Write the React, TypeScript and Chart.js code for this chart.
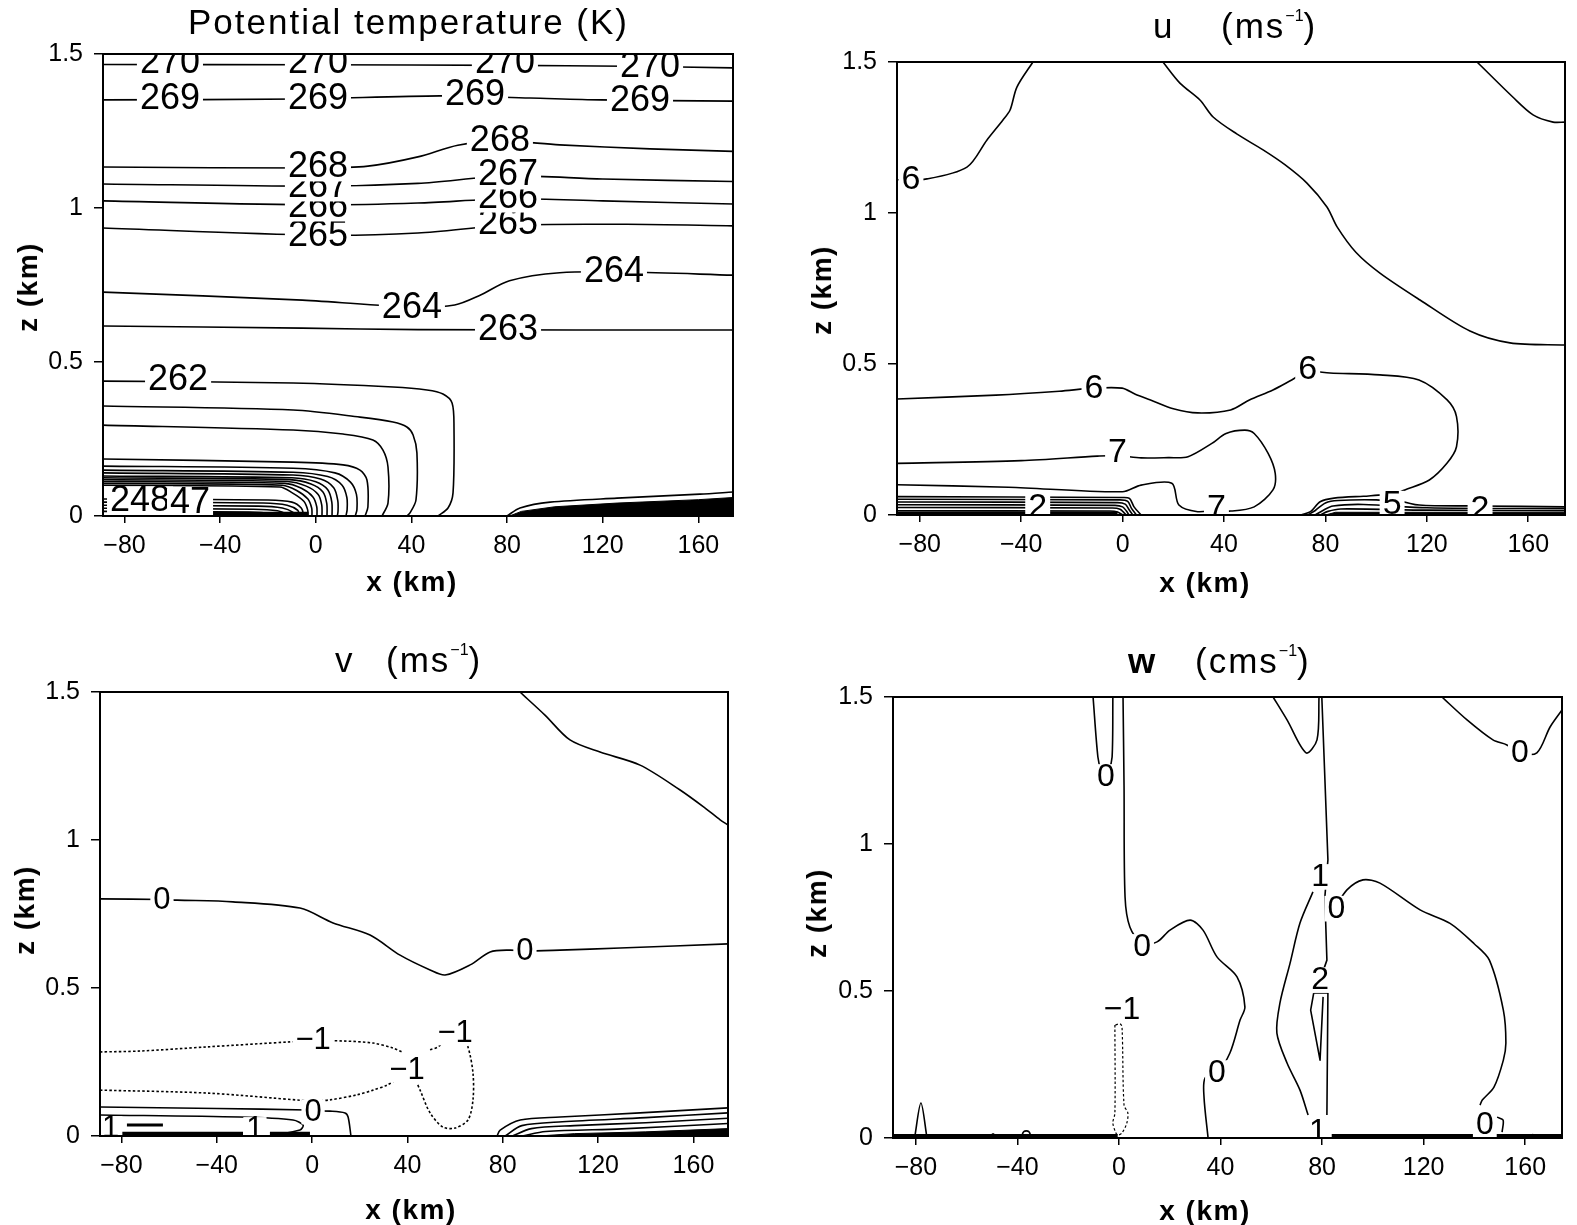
import React, { useEffect, useRef } from 'react';
import { Chart, registerables } from 'chart.js';

Chart.register(...registerables);

type Pt = [number, number];
type Lab = { t: string; x: number; z: number };
type Ln = { pts: Pt[]; dash?: boolean; w?: number; fill?: boolean; straight?: boolean };

const FONT = "'Liberation Sans', Arial, Helvetica, sans-serif";

// ---------- axes ----------
const xMin = -89;
const xMax = 174.5;
const zMin = 0;
const zMax = 1.5;
const xTickValues = [-80, -40, 0, 40, 80, 120, 160];
const zTickValues = [0, 0.5, 1, 1.5];

// ---------- Panel 1 : potential temperature (K) ----------
const th270: Pt[] = [[-89, 1.466], [0, 1.465], [80, 1.463], [130, 1.46], [174.5, 1.455]];
const th269: Pt[] = [[-89, 1.351], [-6.6, 1.354], [52, 1.364], [89.6, 1.357], [118.9, 1.351], [174.5, 1.347]];
const th268: Pt[] = [[-89, 1.133], [0.9, 1.13], [21.8, 1.136], [42.7, 1.166], [59.4, 1.204], [77, 1.218], [102, 1.205], [139.8, 1.192], [174.5, 1.184]];
const th267: Pt[] = [[-89, 1.078], [0.9, 1.071], [42.7, 1.08], [80.4, 1.104], [120, 1.094], [174.5, 1.086]];
const th266: Pt[] = [[-89, 1.023], [0.9, 1.01], [42.7, 1.016], [80.4, 1.03], [120, 1.023], [174.5, 1.013]];
const th265: Pt[] = [[-89, 0.935], [0.9, 0.912], [42.7, 0.919], [80.4, 0.944], [130, 0.947], [174.5, 0.942]];
const th264: Pt[] = [[-89, 0.727], [-5.6, 0.701], [40.2, 0.678], [58.1, 0.685], [68.5, 0.716], [81, 0.764], [102, 0.79], [130, 0.792], [174.5, 0.782]];
const th263: Pt[] = [[-89, 0.617], [-5.6, 0.61], [42.7, 0.605], [174.5, 0.604]];
const th262: Pt[] = [[-89, 0.438], [-9.5, 0.432], [32.3, 0.419], [46.5, 0.409], [53.2, 0.396], [57, 0.367], [57.8, 0.289], [57.4, 0.075], [55.3, 0.026], [51.1, 0]];
const th261: Pt[] = [[-89, 0.357], [-9.5, 0.344], [18.5, 0.321], [32.3, 0.305], [38.1, 0.289], [40.7, 0.263], [42.3, 0.205], [41.9, 0.052], [39.4, 0.01], [38.1, 0]];
const th260: Pt[] = [[-89, 0.295], [-9.5, 0.279], [11.4, 0.266], [23.9, 0.247], [28.1, 0.214], [30.2, 0.159], [30.2, 0.042], [27.7, 0]];
const th259: Pt[] = [[-89, 0.185], [-9.5, 0.175], [11.4, 0.166], [18.5, 0.149], [21.4, 0.117], [21.8, 0.029], [20.6, 0]];
const th258: Pt[] = [[-89, 0.162], [-9.5, 0.155], [8, 0.14], [14.5, 0.11], [17, 0.07], [17.2, 0.02], [16.5, 0]];
const th257: Pt[] = [[-89, 0.149], [-9.5, 0.142], [5, 0.128], [11, 0.1], [13, 0.06], [13.1, 0.02], [12.6, 0]];
const th256: Pt[] = [[-89, 0.14], [-9.5, 0.133], [2, 0.12], [7.5, 0.092], [9.2, 0.05], [9.3, 0.015], [9, 0]];
const th255: Pt[] = [[-89, 0.13], [-10, 0.124], [0, 0.111], [5, 0.085], [6.7, 0.045], [6.8, 0]];
const th254: Pt[] = [[-89, 0.124], [-11, 0.118], [-2, 0.104], [3, 0.078], [4.6, 0.04], [4.7, 0]];
const th253: Pt[] = [[-89, 0.118], [-12, 0.112], [-4, 0.097], [1, 0.07], [2.5, 0.035], [2.6, 0]];
const th252: Pt[] = [[-89, 0.112], [-13, 0.106], [-6, 0.09], [-1.2, 0.062], [0.4, 0.03], [0.5, 0]];
const th251: Pt[] = [[-89, 0.106], [-14, 0.1], [-8, 0.083], [-3.3, 0.055], [-1.7, 0.025], [-1.6, 0]];
const th250: Pt[] = [[-89, 0.1], [-15, 0.094], [-10, 0.076], [-5, 0.048], [-3.4, 0.02], [-3.3, 0]];
const th249: Pt[] = [[-89, 0.055], [-20, 0.052], [-10, 0.045], [-6, 0.025], [-5, 0]];
const th248: Pt[] = [[-89, 0.045], [-22, 0.042], [-12, 0.035], [-7.5, 0.018], [-7, 0]];
const th247: Pt[] = [[-89, 0.035], [-24, 0.032], [-14, 0.026], [-9.5, 0.012], [-9, 0]];
const th246: Pt[] = [[-89, 0.025], [-26, 0.022], [-16, 0.017], [-12, 0.006], [-11.5, 0]];
const th245: Pt[] = [[-89, 0.015], [-28, 0.013], [-18, 0.008], [-14, 0]];
const thGround: Pt[] = [[-43, 0.006], [-3, 0.006]];
const thWedgeTop: Pt[] = [[79.97, 0], [85.4, 0.026], [98, 0.045], [126, 0.058], [160.7, 0.071], [174.5, 0.078]];
const thWedgeFill: Pt[] = [[81, 0], [86, 0.015], [100, 0.03], [126, 0.042], [160, 0.053], [174.5, 0.06]];
const thLabels: Lab[] = [
  { t: '270', x: -61, z: 1.472 }, { t: '270', x: 0.9, z: 1.472 }, { t: '270', x: 79.1, z: 1.472 }, { t: '270', x: 139.8, z: 1.458 },
  { t: '269', x: -61, z: 1.354 }, { t: '269', x: 0.9, z: 1.354 }, { t: '269', x: 66.6, z: 1.367 }, { t: '269', x: 135.6, z: 1.347 },
  { t: '265', x: 0.9, z: 0.909 }, { t: '265', x: 80.4, z: 0.948 },
  { t: '266', x: 0.9, z: 1.003 }, { t: '266', x: 80.4, z: 1.032 },
  { t: '267', x: 0.9, z: 1.068 }, { t: '267', x: 80.4, z: 1.107 },
  { t: '268', x: 0.9, z: 1.133 }, { t: '268', x: 77, z: 1.218 },
  { t: '264', x: 40.2, z: 0.675 }, { t: '264', x: 124.7, z: 0.792 },
  { t: '263', x: 80.4, z: 0.604 }, { t: '262', x: -57.6, z: 0.442 },
  { t: '248', x: -73.5, z: 0.049 }, { t: '47', x: -52.6, z: 0.042 },
];

// ---------- Panel 2 : u (m/s) ----------
const uSixTop: Pt[] = [[-89, 1.11], [-77.2, 1.113], [-61.4, 1.152], [-53.5, 1.242], [-47.2, 1.308], [-44.4, 1.341], [-41.7, 1.417], [-35.4, 1.5]];
const uDiag: Pt[] = [[15.9, 1.5], [22.6, 1.43], [30.5, 1.374], [35.7, 1.318], [45, 1.262], [55.4, 1.209], [64, 1.16], [72.7, 1.099], [80.6, 1.02], [84.6, 0.954], [92, 0.87], [101.5, 0.801], [117.3, 0.712], [137, 0.609], [152.8, 0.57], [174.5, 0.563]];
const uTopRight: Pt[] = [[139.8, 1.5], [153.9, 1.384], [161.9, 1.325], [169.8, 1.301], [174.5, 1.301]];
const uSixLow: Pt[] = [[-89, 0.384], [-50, 0.397], [-25, 0.41], [-11.3, 0.42], [-0.2, 0.42], [5, 0.4], [11, 0.381], [20, 0.352], [29.6, 0.338], [42.6, 0.348], [50, 0.381], [59.3, 0.414], [66.7, 0.447], [73, 0.475], [81.8, 0.47], [101.5, 0.464], [116.9, 0.447], [128, 0.381], [131.7, 0.326], [131.7, 0.226], [128, 0.172], [121, 0.116], [111.3, 0.083], [106, 0.066]];
const uSeven: Pt[] = [[-89, 0.171], [-40, 0.18], [-10, 0.195], [-2, 0.197], [7.3, 0.189], [18, 0.19], [25.8, 0.193], [35.2, 0.237], [40.8, 0.27], [48.2, 0.281], [51.9, 0.27], [57.4, 0.204], [60.2, 0.138], [59.3, 0.083], [51.9, 0.027], [42.6, 0.013], [37, 0.017], [29.6, 0.011], [22.2, 0.033], [19.4, 0.105], [7.3, 0.099], [-0.1, 0.077], [-45, 0.092], [-89, 0.1]];
const uFive: Pt[] = [[70.4, 0], [74.1, 0.011], [77.9, 0.044], [83.4, 0.056], [95, 0.062], [104.7, 0.066], [108.5, 0.05], [117, 0.033], [140, 0.03], [174.5, 0.027]];
const uLow1: Pt[] = [[-89, 0.061], [-0.1, 0.058], [2.7, 0.055], [4.5, 0.027], [7.3, 0]];
const uLow2: Pt[] = [[-89, 0.052], [-1, 0.05], [2, 0.045], [3.5, 0.022], [5.5, 0]];
const uLow3: Pt[] = [[-89, 0.043], [-2, 0.041], [1, 0.036], [2.5, 0.018], [4, 0]];
const uLow4: Pt[] = [[-89, 0.034], [-3, 0.032], [0, 0.027], [1.5, 0.013], [2.5, 0]];
const uLow5: Pt[] = [[-89, 0.025], [-4, 0.023], [-1, 0.019], [0.5, 0.008], [1.5, 0]];
const uLow6: Pt[] = [[-89, 0.014], [-5, 0.013], [-2, 0.01], [0, 0]];
const uGroundL: Pt[] = [[-89, 0.005], [-2, 0.005]];
const uRight1: Pt[] = [[73, 0], [76, 0.015], [80, 0.04], [85, 0.048], [100, 0.05], [105, 0.045]];
const uRight2: Pt[] = [[76, 0], [79, 0.015], [83, 0.03], [95, 0.035], [120, 0.024], [174.5, 0.021]];
const uRight3: Pt[] = [[78, 0], [81, 0.012], [86, 0.02], [120, 0.016], [174.5, 0.014]];
const uRightFill: Pt[] = [[80, 0], [84, 0.009], [120, 0.009], [174.5, 0.009]];
const uLabels: Lab[] = [
  { t: '6', x: -83.5, z: 1.11 }, { t: '6', x: -11.3, z: 0.418 }, { t: '6', x: 73, z: 0.48 },
  { t: '7', x: -2, z: 0.205 }, { t: '7', x: 37, z: 0.022 },
  { t: '2', x: -33.5, z: 0.025 }, { t: '5', x: 106.3, z: 0.035 }, { t: '2', x: 141, z: 0.018 },
];

// ---------- Panel 3 : v (m/s) ----------
const vTopRight: Pt[] = [[87.2, 1.5], [97.7, 1.422], [108.2, 1.338], [120.8, 1.297], [137.6, 1.253], [154.4, 1.169], [164.9, 1.108], [171.2, 1.068], [174.5, 1.051]];
const vZero: Pt[] = [[-89, 0.801], [-63, 0.799], [-56.7, 0.797], [-33.2, 0.791], [-5.1, 0.77], [8.8, 0.72], [24.3, 0.679], [36.9, 0.611], [49.5, 0.561], [55.8, 0.544], [66.3, 0.578], [74.7, 0.622], [83.1, 0.628], [89.3, 0.625], [104, 0.628], [129.2, 0.635], [174.5, 0.649]];
const vNegA: Pt[] = [[-89, 0.284], [-72.2, 0.287], [-44.1, 0.301], [-9.3, 0.318], [0.4, 0.322], [13, 0.321], [25.6, 0.314], [34, 0.297], [37.7, 0.284]];
const vNegB: Pt[] = [[49.5, 0.291], [52.8, 0.301], [57, 0.33]];
const vNegLoop: Pt[] = [[63, 0.33], [65.4, 0.301], [67.5, 0.213], [67.5, 0.122], [65.4, 0.054], [60, 0.027], [54.9, 0.03], [49.5, 0.078], [45.3, 0.155], [44, 0.179]];
const vNegC: Pt[] = [[-89, 0.155], [-44.1, 0.145], [-3.8, 0.12], [0.4, 0.118], [7.5, 0.122], [18.8, 0.139], [25.6, 0.155], [31.4, 0.172], [37, 0.2]];
const vSolid1: Pt[] = [[-89, 0.098], [-40, 0.093], [-2.1, 0.088], [0.4, 0.085], [7.5, 0.084], [13.8, 0.078], [15.1, 0.064], [16.3, 0]];
const vSolid2: Pt[] = [[-89, 0.071], [-30.3, 0.064], [-8, 0.054], [-3.8, 0.037], [-5.1, 0.02], [-16.4, 0.003]];
const vShort: Pt[] = [[-77.7, 0.037], [-62.6, 0.037]];
const vGroundA: Pt[] = [[-89, 0.006], [-29, 0.006]];
const vGroundB: Pt[] = [[-17.7, 0.006], [-0.9, 0.006]];
const vWedge1: Pt[] = [[77.6, 0], [78.9, 0.02], [87.3, 0.054], [104, 0.064], [137.6, 0.078], [174.5, 0.095]];
const vWedge2: Pt[] = [[81, 0], [88, 0.035], [105, 0.048], [140, 0.062], [174.5, 0.078]];
const vWedge3: Pt[] = [[84, 0], [92, 0.025], [110, 0.035], [140, 0.045], [174.5, 0.06]];
const vWedge4: Pt[] = [[88, 0], [98, 0.015], [130, 0.024], [174.5, 0.042]];
const vWedgeFill: Pt[] = [[95, 0], [110, 0.008], [140, 0.014], [174.5, 0.025]];
const vLabels: Lab[] = [
  { t: '0', x: -63, z: 0.797 }, { t: '0', x: 89.3, z: 0.622 },
  { t: '−1', x: 0.4, z: 0.324 }, { t: '−1', x: 39.8, z: 0.223 }, { t: '−1', x: 60, z: 0.348 },
  { t: '0', x: 0.4, z: 0.081 }, { t: '1', x: -24, z: 0.022 }, { t: '1', x: -84.5, z: 0.025 },
];

// ---------- Panel 4 : w (cm/s) ----------
const wU: Pt[] = [[-10.2, 1.5], [-8.3, 1.296], [-7, 1.25], [-5.5, 1.235], [-4, 1.25], [-2.7, 1.296], [-2.4, 1.5]];
const wLong: Pt[] = [[1.6, 1.5], [2, 1.2], [2.4, 0.82], [4.3, 0.718], [9.1, 0.66], [15, 0.667], [20.1, 0.707], [28, 0.741], [33.1, 0.707], [38.6, 0.616], [46.5, 0.548], [49.6, 0.446], [47.7, 0.401], [43.7, 0.289], [38.6, 0.221], [33.9, 0.204], [33.5, 0.139], [35.1, 0]];
const wV: Pt[] = [[60.7, 1.5], [66.2, 1.422], [73.7, 1.31], [78, 1.354], [78.8, 1.5]];
const wVert1: Pt[] = [[79.9, 1.5], [82.3, 0.946], [81.1, 0.82], [81.9, 0.605], [79.2, 0.537]];
const wVert2: Pt[] = [[76.7, 0.493], [82.3, 0.493], [81.9, 0.078]];
const wTri: Pt[] = [[76.7, 0.493], [75.5, 0.435], [79.2, 0.265], [80.4, 0.48]];
const wCurve: Pt[] = [[76.4, 0.837], [71.3, 0.731], [67.4, 0.595], [63.4, 0.459], [62.2, 0.357], [66.2, 0.255], [71.3, 0.163], [74.5, 0.078]];
const wRight0: Pt[] = [[85.1, 0.782], [89.8, 0.844], [96.1, 0.878], [102.8, 0.867], [118.6, 0.776], [130.4, 0.73], [140, 0.66], [145.9, 0.605], [151.4, 0.435], [152.4, 0.323], [151.4, 0.265], [147.7, 0.173], [143.1, 0.129], [142.2, 0.112]];
const wHook: Pt[] = [[148.9, 0.071], [151.3, 0.061], [150.9, 0.02]];
const wTopRight: Pt[] = [[127.2, 1.5], [137.1, 1.422], [147.3, 1.354], [152.8, 1.337], [157.9, 1.31], [164.6, 1.31], [169.8, 1.398], [174.5, 1.456]];
const wNegLoop: Pt[] = [[-1.6, 0.384], [-1.6, 0.085], [-2.4, 0.051], [-1.2, 0.017], [-0.4, 0.01], [1.2, 0.017], [3.1, 0.051], [3.5, 0.085], [2, 0.112], [1.2, 0.378], [0.4, 0.388], [-1.6, 0.384]];
const wSpike: Pt[] = [[-80.5, 0], [-78, 0.119], [-75.6, 0]];
const wBump1: Pt[] = [[-51, 0], [-49.6, 0.014], [-48, 0]];
const wBump2: Pt[] = [[-38.5, 0], [-37.5, 0.022], [-35.5, 0.022], [-34.5, 0]];
const wBump3: Pt[] = [[161.5, 0], [163, 0.012], [164.5, 0]];
const wGroundL: Pt[] = [[-89, 0.006], [-0.5, 0.006]];
const wGroundR: Pt[] = [[83.8, 0.006], [174.5, 0.006]];
const wLabels: Lab[] = [
  { t: '0', x: -5.1, z: 1.228 }, { t: '0', x: 9.1, z: 0.65 }, { t: '0', x: 38.6, z: 0.221 },
  { t: '−1', x: 1.2, z: 0.435 }, { t: '1', x: 79.2, z: 0.888 }, { t: '0', x: 85.6, z: 0.78 },
  { t: '2', x: 79.2, z: 0.537 }, { t: '1', x: 78.4, z: 0.02 },
  { t: '0', x: 157.9, z: 1.31 }, { t: '0', x: 144.1, z: 0.044 },
];

// ---------- panel definitions ----------
type PanelDef = { rect: [number, number, number, number]; lines: Ln[]; labels: Lab[]; labelSize: number };

const panels: PanelDef[] = [
  {
    rect: [103, 54, 733, 516],
    labelSize: 36,
    labels: thLabels,
    lines: [
      { pts: th270 }, { pts: th269 }, { pts: th268 }, { pts: th267 }, { pts: th266 }, { pts: th265 },
      { pts: th264 }, { pts: th263 }, { pts: th262 }, { pts: th261 }, { pts: th260 }, { pts: th259 },
      { pts: th258 }, { pts: th257 }, { pts: th256 }, { pts: th255 }, { pts: th254 }, { pts: th253 },
      { pts: th252 }, { pts: th251 }, { pts: th250 }, { pts: th249 }, { pts: th248 }, { pts: th247 },
      { pts: th246 }, { pts: th245 }, { pts: thGround, w: 5 },
      { pts: thWedgeTop }, { pts: thWedgeFill, fill: true, w: 1 },
    ],
  },
  {
    rect: [897, 62, 1565, 515],
    labelSize: 34,
    labels: uLabels,
    lines: [
      { pts: uSixTop }, { pts: uDiag }, { pts: uTopRight }, { pts: uSixLow }, { pts: uSeven }, { pts: uFive },
      { pts: uLow1 }, { pts: uLow2 }, { pts: uLow3 }, { pts: uLow4 }, { pts: uLow5 }, { pts: uLow6 },
      { pts: uGroundL, w: 4 }, { pts: uRight1 }, { pts: uRight2 }, { pts: uRight3 },
      { pts: uRightFill, fill: true, w: 1 },
    ],
  },
  {
    rect: [100, 692, 728, 1136],
    labelSize: 31,
    labels: vLabels,
    lines: [
      { pts: vTopRight }, { pts: vZero },
      { pts: vNegA, dash: true }, { pts: vNegB, dash: true }, { pts: vNegLoop, dash: true }, { pts: vNegC, dash: true },
      { pts: vSolid1 }, { pts: vSolid2 }, { pts: vShort, w: 3 }, { pts: vGroundA, w: 5 }, { pts: vGroundB, w: 5 },
      { pts: vWedge1 }, { pts: vWedge2 }, { pts: vWedge3 }, { pts: vWedge4 }, { pts: vWedgeFill, fill: true, w: 1 },
    ],
  },
  {
    rect: [893, 697, 1562, 1138],
    labelSize: 32,
    labels: wLabels,
    lines: [
      { pts: wU }, { pts: wLong }, { pts: wV }, { pts: wVert1, straight: true }, { pts: wVert2, straight: true },
      { pts: wTri, straight: true }, { pts: wCurve }, { pts: wRight0 }, { pts: wHook }, { pts: wTopRight },
      { pts: wNegLoop, dash: true, w: 1.2 }, { pts: wSpike }, { pts: wBump1 }, { pts: wBump2 }, { pts: wBump3 },
      { pts: wGroundL, w: 4.5 }, { pts: wGroundR, w: 4.5 },
    ],
  },
];

const fmtX = (v: number) => (v < 0 ? '−' + Math.abs(v) : String(v));
const fmtZ = (v: number) => String(v);

function ContourPanel({ def }: { def: PanelDef }) {
  const ref = useRef<HTMLCanvasElement | null>(null);
  const [L, T, R, B] = def.rect;
  const AXW = 100;
  const PADT = 40;
  const PADR = 30;
  const AXH = 60;
  const width = R - L + AXW + PADR;
  const height = B - T + PADT + AXH;

  useEffect(() => {
    const canvas = ref.current;
    if (!canvas) return;
    const datasets = def.lines.map((ln) => ({
      data: ln.pts.map(([x, y]) => ({ x, y })),
      showLine: true,
      pointRadius: 0,
      pointHoverRadius: 0,
      borderColor: '#000',
      backgroundColor: '#000',
      borderWidth: ln.w ?? 1.6,
      borderDash: ln.dash ? [2.5, 2.2] : [],
      tension: ln.straight || ln.fill ? 0 : 0.3,
      fill: ln.fill ? 'origin' : false,
      borderCapStyle: 'butt',
      borderJoinStyle: 'round',
    }));
    const labelPlugin = {
      id: 'contourLabels',
      afterDatasetsDraw(chart: any) {
        const { ctx, chartArea: a, scales } = chart;
        ctx.save();
        ctx.beginPath();
        ctx.rect(a.left, a.top, a.right - a.left, a.bottom - a.top);
        ctx.clip();
        ctx.font = `${def.labelSize}px ${FONT}`;
        ctx.textAlign = 'center';
        ctx.textBaseline = 'middle';
        for (const lb of def.labels) {
          const px = scales.x.getPixelForValue(lb.x);
          const py = scales.y.getPixelForValue(lb.z);
          const w = ctx.measureText(lb.t).width;
          const h = def.labelSize * 0.8;
          ctx.fillStyle = '#fff';
          ctx.fillRect(px - w / 2 - 3, py - h / 2, w + 6, h);
          ctx.fillStyle = '#000';
          ctx.fillText(lb.t, px, py);
        }
        ctx.restore();
        ctx.save();
        ctx.strokeStyle = '#000';
        ctx.lineWidth = 2;
        ctx.strokeRect(a.left, a.top, a.right - a.left, a.bottom - a.top);
        ctx.restore();
      },
    };
    const chart = new Chart(canvas, {
      type: 'scatter',
      data: { datasets: datasets as any },
      options: {
        animation: false,
        responsive: false,
        maintainAspectRatio: false,
        devicePixelRatio: 1,
        events: [],
        layout: { padding: { top: PADT, right: PADR, left: 0, bottom: 0 } },
        plugins: { legend: { display: false }, tooltip: { enabled: false }, title: { display: false } },
        scales: {
          x: {
            type: 'linear',
            min: xMin,
            max: xMax,
            afterFit: (s: any) => { s.height = AXH; },
            afterBuildTicks: (s: any) => { s.ticks = xTickValues.map((v) => ({ value: v })); },
            ticks: {
              callback: (v: any) => fmtX(Number(v)),
              color: '#000',
              font: { family: FONT, size: 25 },
              padding: 8,
              maxRotation: 0,
              autoSkip: false,
            },
            grid: { drawOnChartArea: false, drawTicks: true, tickLength: 7, color: '#000', lineWidth: 1.5 },
            border: { display: false },
          },
          y: {
            type: 'linear',
            min: zMin,
            max: zMax,
            afterFit: (s: any) => { s.width = AXW; },
            afterBuildTicks: (s: any) => { s.ticks = zTickValues.map((v) => ({ value: v })); },
            ticks: {
              callback: (v: any) => fmtZ(Number(v)),
              color: '#000',
              font: { family: FONT, size: 25 },
              padding: 11,
              autoSkip: false,
            },
            grid: { drawOnChartArea: false, drawTicks: true, tickLength: 9, color: '#000', lineWidth: 1.5 },
            border: { display: false },
          },
        },
      } as any,
      plugins: [labelPlugin],
    });
    let a = chart.chartArea;
    const dw = (R - L) - (a.right - a.left);
    const dh = (B - T) - (a.bottom - a.top);
    if (Math.abs(dw) > 0.5 || Math.abs(dh) > 0.5) {
      chart.resize(width + dw, height + dh);
      a = chart.chartArea;
    }
    canvas.style.left = `${L - a.left}px`;
    canvas.style.top = `${T - a.top}px`;
    return () => chart.destroy();
  }, [def]);

  return (
    <canvas
      ref={ref}
      width={width}
      height={height}
      style={{ position: 'absolute', left: L - AXW, top: T - PADT, width, height }}
    />
  );
}

const titleStyle: React.CSSProperties = {
  position: 'absolute',
  fontFamily: FONT,
  fontSize: '35px',
  lineHeight: '35px',
  color: '#000',
  whiteSpace: 'pre',
  letterSpacing: '2px',
};

const axisStyle: React.CSSProperties = {
  position: 'absolute',
  fontFamily: FONT,
  fontSize: '28px',
  lineHeight: '28px',
  fontWeight: 'bold',
  color: '#000',
  whiteSpace: 'pre',
  letterSpacing: '1.5px',
};

const supStyle: React.CSSProperties = { fontSize: '16px', position: 'relative', top: '-17px', letterSpacing: '0px' };

const xTitlePos = [[412, 592], [1205, 593], [411, 1220], [1205, 1221]];
const zTitlePos = [[28, 287], [822, 290], [25, 910], [817, 913]];

export default function App() {
  return (
    <div style={{ position: 'absolute', left: 0, top: 0, width: 1577, height: 1225, background: '#fff', overflow: 'hidden' }}>
      {panels.map((p, i) => (
        <ContourPanel key={i} def={p} />
      ))}
      <div style={{ ...titleStyle, left: 188, top: 4 }}>Potential temperature (K)</div>
      <div style={{ ...titleStyle, left: 1153, top: 8 }}>u</div>
      <div style={{ ...titleStyle, left: 1221, top: 8 }}>(ms<span style={supStyle}>−1</span>)</div>
      <div style={{ ...titleStyle, left: 335, top: 642 }}>v</div>
      <div style={{ ...titleStyle, left: 386, top: 642 }}>(ms<span style={supStyle}>−1</span>)</div>
      <div style={{ ...titleStyle, left: 1128, top: 643, fontWeight: 'bold' }}>w</div>
      <div style={{ ...titleStyle, left: 1195, top: 643 }}>(cms<span style={supStyle}>−1</span>)</div>
      {xTitlePos.map(([cx, base], i) => (
        <div key={'xt' + i} style={{ ...axisStyle, left: cx, top: base - 24, transform: 'translateX(-50%)' }}>x (km)</div>
      ))}
      {zTitlePos.map(([cx, cy], i) => (
        <div key={'zt' + i} style={{ ...axisStyle, left: cx, top: cy, transform: 'translate(-50%, -50%) rotate(-90deg)' }}>z (km)</div>
      ))}
    </div>
  );
}
